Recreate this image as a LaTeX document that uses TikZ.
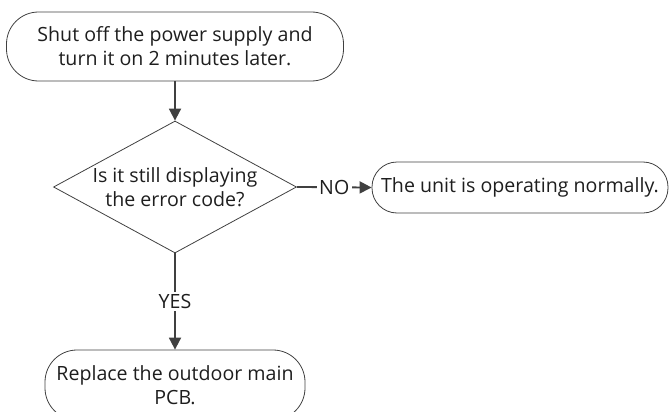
\documentclass[tikz,border=0pt]{standalone}
\usepackage{fontspec}
\setmainfont{Open Sans}
\usetikzlibrary{arrows.meta,shapes.geometric,positioning}
\definecolor{flowgray}{RGB}{64,64,64}
\definecolor{flowtext}{RGB}{30,30,30}

\begin{document}
\begin{tikzpicture}[x=1pt,y=-1pt,
        termbox/.style={draw=flowgray,rounded corners=32pt,line width=0.8pt,
                        align=center,text=flowtext,inner sep=0pt,
                        font=\fontsize{19.6}{24}\selectfont},
        decide/.style={draw=flowgray,diamond,aspect=1.84,line width=0.8pt,
                       align=center,text=flowtext,inner sep=-6pt,
                       minimum width=243pt,minimum height=132pt,
                       font=\fontsize{19.6}{24}\selectfont},
        flow/.style={draw=flowgray,line width=1.8pt,
                     -{Triangle[length=12pt,width=12pt]}},
        answer/.style={fill=white,text=flowtext,inner sep=2.5pt,
                       font=\fontsize{19.6}{20}\selectfont}
      ]
        \useasboundingbox (0,0) rectangle (669,412);
        \node[termbox,minimum width=337pt,minimum height=69pt]
          (restart) at (175,46.5)
          {Shut off the power supply and\\turn it on 2 minutes later.};
        \node[decide] (still) at (175,187)
          {Is it still displaying\\the error code?};
        \node[termbox,rounded corners=25pt,minimum width=296pt,
              minimum height=51pt]
          (normal) at (520,187.5) {The unit is operating normally.};
        \node[termbox,minimum width=260pt,minimum height=70pt]
          (replace) at (175,385) {Replace the outdoor main\\PCB.};
        \draw[flow] (restart) -- (still);
        \draw[flow] (still.east) -- node[answer]{NO} (normal.west);
        \draw[flow] (still.south) -- node[answer]{YES} (replace.north);
      \end{tikzpicture}
\end{document}
